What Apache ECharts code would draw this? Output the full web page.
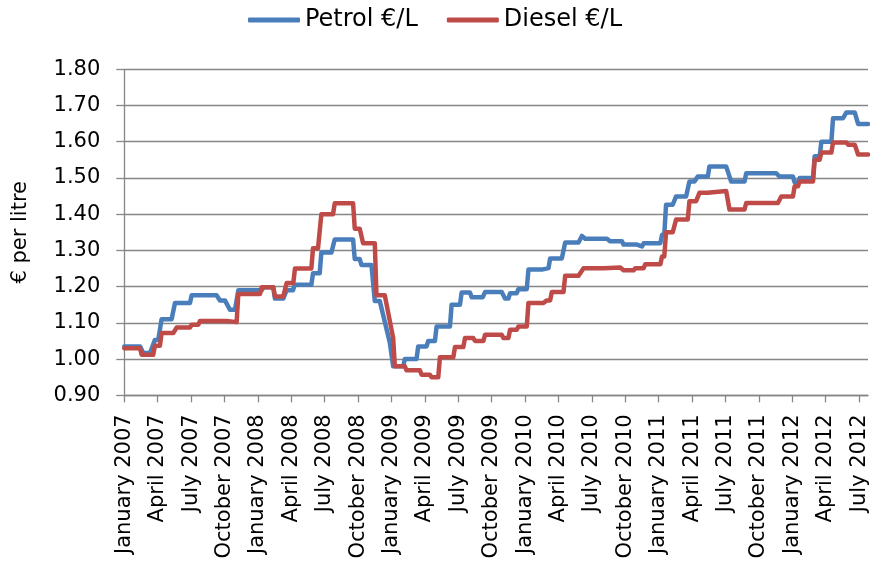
<!DOCTYPE html>
<html>
<head>
<meta charset="utf-8">
<script src="https://cdn.jsdelivr.net/npm/echarts@6/dist/echarts.min.js"></script>
<style>html,body{margin:0;padding:0;background:#fff;}#c{width:870px;height:565px;}</style>
</head>
<body>
<div id="c"></div>
<script>
// x = months since January 2007
var tickLabels = ['January 2007','April 2007','July 2007','October 2007','January 2008','April 2008','July 2008','October 2008','January 2009','April 2009','July 2009','October 2009','January 2010','April 2010','July 2010','October 2010','January 2011','April 2011','July 2011','October 2011','January 2012','April 2012','July 2012'];
var tickMonths = [0,3,6,9,12,15,18,21,24,27,30,33,36,39,42,45,48,51,54,57,60,63,66];
var seriesNames = ['Petrol €/L','Diesel €/L'];

var petrol = [
[0,1.035],[1.41,1.035],[1.71,1.017],[2.31,1.017],[2.75,1.053],[3.05,1.053],
[3.35,1.11],[4.25,1.11],[4.55,1.155],[5.9,1.155],[6.05,1.176],[8.29,1.176],
[8.59,1.162],[9.04,1.162],[9.49,1.136],[9.94,1.136],[10.24,1.19],[12.34,1.19],
[12.49,1.198],[13.38,1.198],[13.53,1.167],[14.28,1.167],[14.58,1.19],[15.15,1.19],
[15.3,1.205],[16.8,1.205],[16.95,1.237],[17.55,1.237],[17.7,1.294],[18.6,1.294],
[18.9,1.33],[20.55,1.33],[20.7,1.276],[21.15,1.276],[21.3,1.26],[22.2,1.26],
[22.5,1.16],[22.95,1.16],[23.85,1.045],[24.15,0.98],[25.05,0.98],
[25.2,1.0],[26.25,1.0],[26.4,1.035],[27.15,1.035],[27.3,1.05],[27.9,1.05],
[28.05,1.09],[29.25,1.09],[29.4,1.15],[30.15,1.15],[30.3,1.184],[31.05,1.184],
[31.2,1.171],[32.2,1.171],[32.4,1.185],[33.9,1.185],[34.2,1.167],[34.5,1.167],
[34.65,1.182],[35.25,1.182],[35.4,1.193],[36.15,1.193],[36.3,1.247],[37.5,1.247],
[37.65,1.251],[38.1,1.251],[38.25,1.278],[39.3,1.278],[39.6,1.322],[40.8,1.322],
[41.1,1.34],[41.25,1.34],[41.4,1.332],[43.35,1.332],[43.65,1.325],[44.7,1.325],
[44.85,1.316],[46.05,1.316],[46.2,1.311],[46.5,1.311],[46.65,1.32],[48.15,1.32],
[48.3,1.343],[48.5,1.343],[48.66,1.426],[49.26,1.426],[49.56,1.449],[50.46,1.449],
[50.76,1.49],[51.21,1.49],[51.51,1.504],[52.41,1.504],[52.56,1.532],[54.06,1.532],
[54.51,1.49],[55.71,1.49],[55.86,1.513],[58.56,1.513],[58.86,1.504],[60.06,1.504],
[60.21,1.488],[60.51,1.488],[60.66,1.5],[61.86,1.5],[62.01,1.56],[62.46,1.56],
[62.61,1.6],[63.51,1.6],[63.66,1.665],[64.56,1.665],[64.86,1.681],[65.61,1.681],
[65.91,1.649],[66.8,1.649]
];

var diesel = [
[0,1.03],[1.41,1.03],[1.56,1.012],[2.6,1.012],[2.75,1.037],[3.2,1.037],
[3.35,1.072],[4.4,1.072],[4.7,1.087],[5.9,1.087],[6.05,1.095],[6.65,1.095],
[6.8,1.105],[9.19,1.105],[9.34,1.102],[10.09,1.102],[10.24,1.18],[12.19,1.18],
[12.34,1.198],[13.38,1.198],[13.53,1.173],[14.28,1.173],[14.58,1.21],[15.18,1.21],
[15.33,1.25],[16.8,1.25],[16.95,1.306],[17.4,1.306],[17.7,1.4],[18.75,1.4],
[18.9,1.43],[20.55,1.43],[20.7,1.36],[21.15,1.36],[21.45,1.32],[22.5,1.32],
[22.65,1.176],[23.4,1.176],[24.15,1.058],[24.3,0.98],[25.2,0.98],
[25.35,0.969],[26.55,0.969],[26.7,0.957],[27.45,0.957],[27.6,0.95],[28.2,0.95],
[28.35,1.005],[29.55,1.005],[29.7,1.033],[30.45,1.033],[30.6,1.058],[31.35,1.058],
[31.5,1.05],[32.25,1.05],[32.4,1.067],[33.9,1.067],[34.05,1.058],[34.5,1.058],
[34.65,1.081],[35.25,1.081],[35.4,1.09],[36.15,1.09],[36.3,1.155],[37.65,1.155],
[37.95,1.162],[38.25,1.162],[38.4,1.185],[39.45,1.185],[39.6,1.23],[40.8,1.23],
[41.25,1.251],[43.05,1.251],[43.2,1.253],[44.55,1.253],[44.85,1.245],[45.75,1.245],
[45.9,1.251],[46.65,1.251],[46.8,1.262],[48.15,1.262],[48.3,1.283],[48.5,1.283],
[48.66,1.35],[49.26,1.35],[49.56,1.385],[50.61,1.385],[50.76,1.436],[51.36,1.436],
[51.66,1.459],[52.41,1.459],[52.56,1.464],[54.06,1.464],[54.36,1.413],[55.71,1.413],
[55.86,1.431],[58.71,1.431],[59.01,1.449],[60.06,1.449],[60.21,1.477],[60.51,1.477],
[60.66,1.49],[61.86,1.49],[62.01,1.55],[62.46,1.55],[62.61,1.57],[63.51,1.57],
[63.66,1.598],[64.86,1.598],[65.01,1.592],[65.61,1.592],[65.91,1.565],[66.8,1.565]
];

var chart = echarts.init(document.getElementById('c'), null, {renderer:'canvas'});
var font = 'DejaVu Sans';
var axisGray = '#868686';
chart.setOption({
  backgroundColor: '#fff',
  animation: false,
  legend: {
    top: 3, left: 'center',
    icon: 'roundRect',
    itemWidth: 52, itemHeight: 5, itemGap: 29,
    textStyle: {fontFamily: font, fontSize: 24, color: '#000'},
    data: seriesNames
  },
  grid: {left: 124.3, right: 2, top: 69.3, bottom: 169.7, containLabel: false, outerBoundsMode: 'none'},
  xAxis: {
    type: 'value', min: 0, max: 66.8,
    axisLine: {show: true, onZero: false, lineStyle: {color: axisGray, width: 1.3}},
    axisTick: {show: true, length: 7, inside: false, customValues: tickMonths, lineStyle: {color: axisGray, width: 1.3}},
    axisLabel: {
      customValues: tickMonths, rotate: 90, margin: 19,
      fontFamily: font, fontSize: 21, color: '#000',
      formatter: function (v) { var i = tickMonths.indexOf(Math.round(v)); return i >= 0 ? tickLabels[i] : ''; }
    },
    splitLine: {show: false}
  },
  yAxis: {
    type: 'value', min: 0.9, max: 1.8, interval: 0.1,
    name: '€ per litre', nameLocation: 'middle', nameRotate: 90, nameGap: 93,
    nameTextStyle: {fontFamily: font, fontSize: 21, color: '#000'},
    axisLine: {show: true, lineStyle: {color: axisGray, width: 1.3}},
    axisTick: {show: true, length: 8, inside: false, lineStyle: {color: axisGray, width: 1.3}},
    axisLabel: {margin: 24, fontFamily: font, fontSize: 21, color: '#000',
      formatter: function (v) { return v.toFixed(2); }},
    splitLine: {show: true, lineStyle: {color: axisGray, width: 1.3}}
  },
  series: [
    {name: seriesNames[0], type: 'line', data: petrol, showSymbol: false, symbol: 'none',
     itemStyle: {color: '#4A7EBB'},
     lineStyle: {color: '#4A7EBB', width: 4.5, join: 'round', cap: 'round'}},
    {name: seriesNames[1], type: 'line', data: diesel, showSymbol: false, symbol: 'none',
     itemStyle: {color: '#BE4B48'},
     lineStyle: {color: '#BE4B48', width: 4.5, join: 'round', cap: 'round'}}
  ]
});
</script>
</body>
</html>
